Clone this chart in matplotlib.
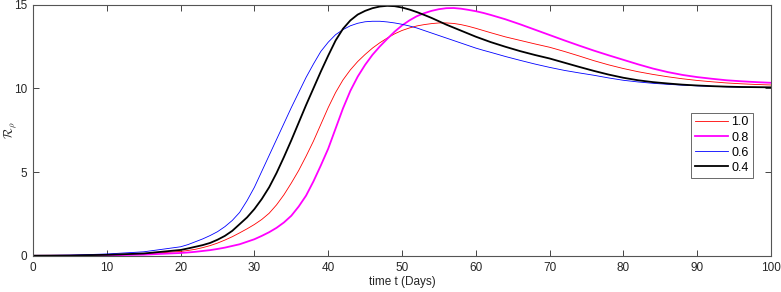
import matplotlib
matplotlib.use("Agg")
import matplotlib.pyplot as plt

plt.rcParams['font.family'] = ['Liberation Sans', 'DejaVu Sans']
plt.rcParams['mathtext.fontset'] = 'cm'

t = [0, 5, 10, 15] + list(range(20, 63)) + list(range(64, 101, 2))

r_10 = [0.02, 0.03, 0.06, 0.12,
        0.27, 0.33, 0.40, 0.50, 0.62, 0.77, 0.95, 1.15, 1.38, 1.62,
        1.88, 2.18, 2.55, 3.05, 3.65, 4.35, 5.10, 5.95, 6.85, 7.85,
        8.85, 9.75, 10.50, 11.10, 11.60, 12.02, 12.40, 12.72, 13.00, 13.25,
        13.45, 13.60, 13.72, 13.80, 13.86, 13.90, 13.90, 13.87, 13.80, 13.70,
        13.58, 13.45, 13.32,
        13.07, 12.86, 12.65, 12.45, 12.20, 11.93, 11.65, 11.40, 11.18, 10.99,
        10.83, 10.69, 10.57, 10.47, 10.39, 10.32, 10.27, 10.23, 10.20]
r_08 = [0.01, 0.02, 0.04, 0.08,
        0.18, 0.21, 0.25, 0.30, 0.35, 0.42, 0.50, 0.60, 0.70, 0.85,
        1.00, 1.20, 1.42, 1.68, 2.00, 2.40, 2.95, 3.60, 4.45, 5.40,
        6.40, 7.60, 8.80, 9.85, 10.70, 11.40, 12.00, 12.50, 12.95, 13.38,
        13.75, 14.05, 14.30, 14.48, 14.62, 14.72, 14.78, 14.79, 14.75, 14.68,
        14.60, 14.50, 14.38,
        14.12, 13.82, 13.50, 13.18, 12.86, 12.55, 12.25, 11.97, 11.70, 11.43,
        11.18, 10.97, 10.80, 10.67, 10.57, 10.48, 10.42, 10.37, 10.33]
r_06 = [0.02, 0.05, 0.12, 0.25,
        0.55, 0.68, 0.85, 1.02, 1.22, 1.45, 1.75, 2.12, 2.60, 3.30,
        4.10, 5.05, 6.00, 6.95, 7.90, 8.85, 9.75, 10.65, 11.45, 12.20,
        12.75, 13.20, 13.50, 13.73, 13.88, 13.97, 14.00, 14.00, 13.96, 13.90,
        13.82, 13.72, 13.60, 13.45, 13.30, 13.15, 13.00, 12.85, 12.70, 12.55,
        12.40, 12.27, 12.15,
        11.90, 11.67, 11.45, 11.25, 11.07, 10.92, 10.78, 10.62, 10.48, 10.38,
        10.30, 10.24, 10.19, 10.15, 10.12, 10.09, 10.07, 10.06, 10.05]
r_04 = [0.02, 0.03, 0.07, 0.15,
        0.36, 0.45, 0.55, 0.65, 0.78, 0.97, 1.20, 1.50, 1.90, 2.30,
        2.80, 3.40, 4.10, 4.95, 5.90, 6.90, 7.95, 9.00, 10.00, 11.00,
        11.95, 12.85, 13.55, 14.05, 14.40, 14.62, 14.78, 14.88, 14.92, 14.90,
        14.82, 14.70, 14.55, 14.38, 14.20, 14.00, 13.80, 13.62, 13.44, 13.26,
        13.08, 12.92, 12.76,
        12.48, 12.22, 11.99, 11.78, 11.53, 11.28, 11.04, 10.82, 10.63, 10.48,
        10.37, 10.29, 10.22, 10.17, 10.13, 10.10, 10.08, 10.07, 10.06]

labels = ['1.0', '0.8', '0.6', '0.4']
colors = ['#ff0000', '#ff00ff', '#0000ff', '#000000']
widths = [0.6, 1.3, 0.6, 1.3]
series = [r_10, r_08, r_06, r_04]

xticks = [0, 10, 20, 30, 40, 50, 60, 70, 80, 90, 100]
yticks = [0, 5, 10, 15]

fig = plt.figure(figsize=(7.81, 2.92), dpi=100)
ax = fig.add_axes([33/781, 1 - 256/292, (771-33)/781, (256-4.5)/292])

for y, lab, c, w in zip(series, labels, colors, widths):
    ax.plot(t, y, color=c, lw=w, label=lab)

ax.set_xlim(0, 100)
ax.set_ylim(0, 15)
ax.set_xticks(xticks)
ax.set_yticks(yticks)
ax.tick_params(direction='in', top=True, right=True, length=4, width=0.6,
               labelsize=8.5, colors='#262626', pad=4)
for s in ax.spines.values():
    s.set_color('#555555')
    s.set_linewidth(0.8)

ax.set_xlabel('time t (Days)', fontsize=8.5, color='#262626', labelpad=2)
ax.set_ylabel(r'$\mathcal{R}_\rho$', fontsize=9, color='#262626')
ax.yaxis.set_label_coords(-0.019, 0.5)

leg = ax.legend(loc='upper right', bbox_to_anchor=(0.975, 0.57), fontsize=9,
                frameon=True, fancybox=False, edgecolor='#262626',
                handlelength=2.6, handletextpad=0.3, borderpad=0.3,
                labelspacing=0.25, borderaxespad=0)
leg.get_frame().set_linewidth(0.6)

fig.savefig('out.png', dpi=100)
